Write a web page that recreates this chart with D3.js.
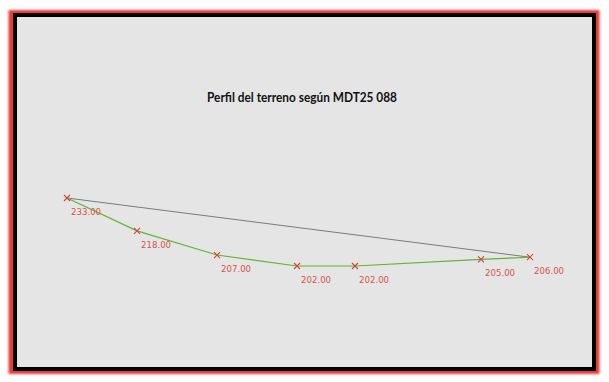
<!DOCTYPE html>
<html><head><meta charset="utf-8">
<script src="https://cdn.jsdelivr.net/npm/d3@7"></script>
<style>html,body{margin:0;padding:0;background:#fff;}svg{display:block;}</style>
</head><body>
<svg id="c" width="609" height="382"></svg>
<script>
const title = "Perfil del terreno según MDT25 088";
const distances = [0, 70, 150, 230, 288, 414, 463];
const elevations = [233, 218, 207, 202, 202, 205, 206];
const labels = ["233.00", "218.00", "207.00", "202.00", "202.00", "205.00", "206.00"];

const svg = d3.select("#c");
const defs = svg.append("defs");
const f = defs.append("filter").attr("id", "blur").attr("x", "-5%").attr("y", "-5%").attr("width", "110%").attr("height", "110%");
f.append("feGaussianBlur").attr("stdDeviation", 1.2);

svg.append("rect").attr("x", 8.5).attr("y", 10).attr("width", 591).attr("height", 364)
  .attr("fill", "#e8383a").attr("filter", "url(#blur)");
svg.append("rect").attr("x", 13).attr("y", 13).attr("width", 583).attr("height", 358).attr("fill", "#000");
svg.append("rect").attr("x", 17).attr("y", 17).attr("width", 575).attr("height", 350).attr("fill", "#e5e5e5");

const x = d3.scaleLinear().domain([0, 463]).range([67, 530]);
const y = d3.scaleLinear().domain([202, 233]).range([266, 198]);

const pts = distances.map((d, i) => ({d, e: elevations[i], l: labels[i]}));
const n = pts.length - 1;

svg.append("path")
  .attr("d", d3.line().x(p => x(p.d)).y(p => y(p.e))([pts[0], pts[n]]))
  .attr("fill", "none").attr("stroke", "#7a7a7a").attr("stroke-width", 1);

svg.append("path")
  .attr("d", d3.line().x(p => x(p.d)).y(p => y(p.e))(pts))
  .attr("fill", "none").attr("stroke", "#5fb534").attr("stroke-width", 1.2);

const m = svg.append("g").selectAll("g").data(pts).join("g")
  .attr("transform", p => `translate(${x(p.d)},${y(p.e)})`);
m.append("path").attr("d", "M-3,-3L3,3M-3,3L3,-3")
  .attr("stroke", "#d0453a").attr("stroke-width", 1.1).attr("fill", "none");

svg.append("g").selectAll("text").data(pts).join("text")
  .attr("x", p => x(p.d) + 4).attr("y", p => y(p.e) + 17)
  .attr("font-family", "DejaVu Sans, Verdana, sans-serif").attr("font-size", 8.6)
  .attr("fill", "#d9534a").text(p => p.l);

svg.append("text").attr("x", 302).attr("y", 102).attr("text-anchor", "middle")
  .attr("font-family", "Lato, 'Open Sans', sans-serif").attr("font-weight", 700)
  .attr("font-size", 13).attr("fill", "#111")
  .attr("textLength", 190).attr("lengthAdjust", "spacingAndGlyphs")
  .text(title);
</script>
</body></html>
